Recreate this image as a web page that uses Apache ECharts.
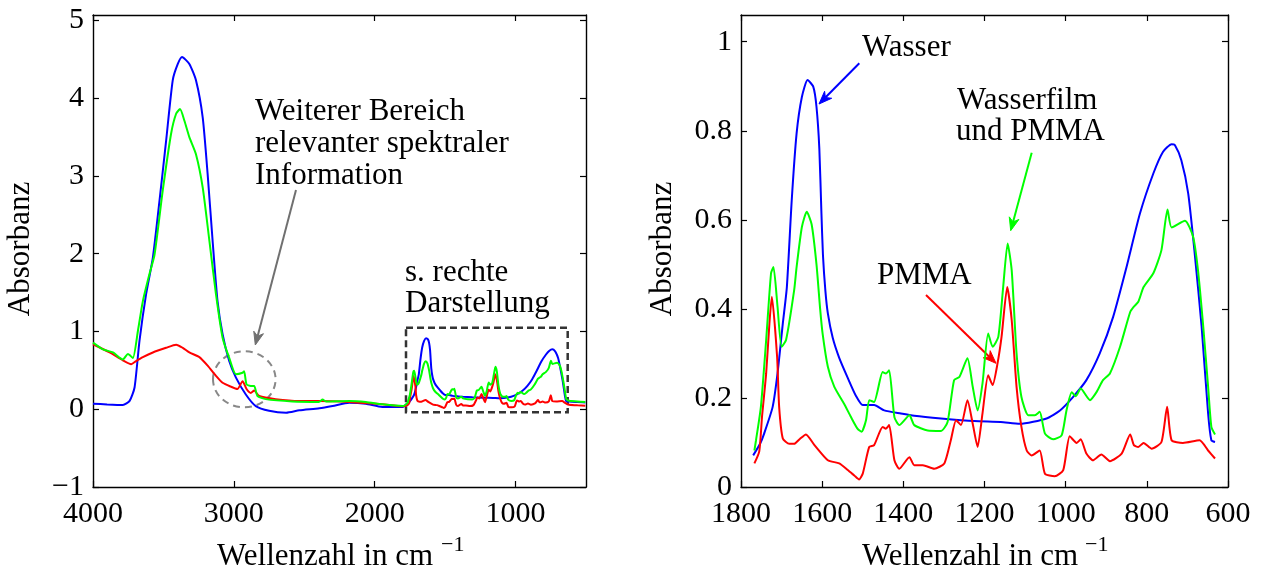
<!DOCTYPE html>
<html><head><meta charset="utf-8">
<script src="https://cdn.jsdelivr.net/npm/echarts@6/dist/echarts.min.js"></script>
<style>html,body{margin:0;padding:0;background:#fff}#c{width:1261px;height:572px}</style>
</head><body><div id="c"></div>
<script>
const FONT = '"Liberation Serif","Times New Roman",serif';

// Tick labels
const xTicksLeft = [4000, 3000, 2000, 1000];
const yTicksLeft = [-1, 0, 1, 2, 3, 4, 5];
const xTicksRight = [1800, 1600, 1400, 1200, 1000, 800, 600];
const yTicksRight = [0, 0.2, 0.4, 0.6, 0.8, 1];

// Left plot only: 4000 .. 1800 cm^-1  [wavenumber, absorbance]
const wasserHigh = [[4000,0.072],[3900,0.062],[3788,0.055],[3740,0.107],[3705,0.28],[3670,0.88],[3623,1.48],[3575,1.95],[3528,2.68],[3481,3.45],[3434,4.23],[3398,4.44],[3368,4.53],[3316,4.44],[3269,4.23],[3221,3.75],[3186,3.02],[3151,2.17],[3116,1.39],[3080,0.965],[3033,0.62],[2986,0.41],[2915,0.19],[2844,0.04],[2750,-0.02],[2629,-0.044],[2535,-0.013],[2393,0.013],[2299,0.042],[2181,0.085],[2063,0.072],[1946,0.03],[1800,0.03]];
const filmHigh = [[4000,0.857],[3929,0.77],[3858,0.73],[3788,0.64],[3752,0.71],[3717,0.66],[3681,1.01],[3646,1.39],[3599,1.74],[3563,1.99],[3505,2.81],[3446,3.54],[3410,3.80],[3382,3.86],[3351,3.71],[3316,3.50],[3269,3.28],[3221,2.85],[3174,2.17],[3127,1.48],[3080,0.92],[3033,0.66],[2986,0.45],[2938,0.47],[2927,0.49],[2910,0.32],[2880,0.30],[2856,0.30],[2832,0.17],[2774,0.13],[2585,0.10],[2396,0.094],[2370,0.124],[2346,0.10],[2181,0.107],[2063,0.094],[1946,0.064],[1800,0.042]];
const pmmaHigh = [[4000,0.836],[3882,0.73],[3788,0.63],[3729,0.58],[3694,0.62],[3646,0.67],[3575,0.73],[3481,0.79],[3410,0.83],[3363,0.79],[3316,0.73],[3245,0.67],[3186,0.56],[3127,0.43],[3080,0.34],[3021,0.29],[2975,0.26],[2938,0.36],[2910,0.26],[2880,0.21],[2856,0.24],[2820,0.17],[2703,0.13],[2535,0.107],[2396,0.107],[2181,0.094],[1946,0.064],[1800,0.038]];

// Fingerprint region 1770 .. 632 cm^-1 (right plot, also in left plot)
const wasserLow = [[1770,0.071],[1753,0.097],[1743,0.12],[1722,0.18],[1710,0.255],[1697,0.367],[1687,0.449],[1675,0.644],[1663,0.794],[1650,0.876],[1636,0.914],[1622,0.899],[1614,0.854],[1607,0.76],[1602,0.62],[1598,0.52],[1592,0.44],[1586,0.39],[1574,0.335],[1558,0.29],[1537,0.245],[1517,0.205],[1500,0.184],[1472,0.184],[1447,0.172],[1406,0.165],[1373,0.160],[1307,0.154],[1225,0.148],[1160,0.146],[1113,0.142],[1047,0.154],[1014,0.172],[982,0.202],[949,0.24],[916,0.30],[883,0.382],[850,0.494],[817,0.614],[784,0.704],[760,0.753],[739,0.770],[731,0.768],[715,0.734],[698,0.659],[682,0.524],[665,0.36],[649,0.165],[641,0.105],[632,0.101]];
const filmLow = [[1767,0.082],[1763,0.105],[1751,0.180],[1738,0.33],[1726,0.48],[1720,0.494],[1710,0.405],[1700,0.315],[1689,0.33],[1669,0.442],[1663,0.494],[1650,0.584],[1638,0.618],[1626,0.59],[1614,0.50],[1605,0.40],[1599,0.345],[1586,0.27],[1570,0.225],[1546,0.187],[1529,0.157],[1513,0.131],[1503,0.124],[1492,0.150],[1484,0.195],[1472,0.191],[1451,0.258],[1443,0.255],[1435,0.262],[1422,0.157],[1410,0.139],[1385,0.161],[1373,0.139],[1340,0.127],[1307,0.126],[1291,0.146],[1275,0.240],[1262,0.247],[1242,0.289],[1229,0.225],[1217,0.172],[1205,0.232],[1191,0.345],[1180,0.315],[1166,0.337],[1154,0.449],[1143,0.547],[1133,0.487],[1121,0.30],[1109,0.202],[1092,0.161],[1076,0.161],[1064,0.169],[1051,0.120],[1031,0.107],[1010,0.116],[998,0.172],[985,0.213],[975,0.204],[963,0.221],[940,0.195],[924,0.213],[908,0.24],[891,0.255],[866,0.315],[841,0.393],[832,0.405],[821,0.416],[808,0.449],[784,0.48],[764,0.532],[749,0.623],[739,0.583],[706,0.598],[686,0.562],[674,0.487],[661,0.36],[649,0.225],[641,0.135],[632,0.118]];
const pmmaLow = [[1767,0.053],[1755,0.08],[1748,0.16],[1738,0.255],[1730,0.367],[1724,0.427],[1711,0.292],[1706,0.18],[1697,0.109],[1681,0.097],[1669,0.097],[1655,0.108],[1640,0.118],[1619,0.094],[1586,0.060],[1558,0.053],[1537,0.038],[1521,0.026],[1509,0.017],[1500,0.030],[1484,0.090],[1472,0.094],[1451,0.135],[1443,0.131],[1435,0.139],[1422,0.060],[1410,0.041],[1385,0.067],[1373,0.049],[1352,0.049],[1324,0.041],[1299,0.053],[1283,0.105],[1270,0.150],[1258,0.139],[1242,0.195],[1229,0.142],[1217,0.090],[1205,0.165],[1191,0.251],[1180,0.229],[1168,0.277],[1158,0.337],[1144,0.449],[1133,0.375],[1121,0.225],[1109,0.135],[1096,0.082],[1084,0.071],[1064,0.082],[1051,0.030],[1027,0.024],[1006,0.038],[990,0.114],[973,0.099],[963,0.107],[949,0.075],[933,0.060],[912,0.073],[891,0.058],[862,0.075],[841,0.118],[832,0.094],[821,0.090],[808,0.099],[788,0.086],[764,0.101],[750,0.180],[739,0.105],[711,0.099],[670,0.105],[649,0.082],[632,0.064]];

// Left plot only: 632 .. 505 cm^-1
const wasserTail = [[620,0.10],[560,0.092],[505,0.088]];
const filmTail = [[620,0.11],[560,0.10],[505,0.094]];
const pmmaTail = [[620,0.058],[560,0.05],[505,0.045]];

const BLUE = '#0000ff', GREEN = '#00ff00', RED = '#ff0000';

const plain = v => String(v);
const minus = v => String(v).replace('-', '\u2212');

function xAxisCfg(grid, min, max, ticks, pos, showLabel) {
  return {
    type: 'value', gridIndex: grid, inverse: true, min: min, max: max, position: pos,
    axisLine: { show: true, onZero: false, lineStyle: { color: '#000', width: 1.4 } },
    axisTick: { show: true, inside: true, length: 6, customValues: ticks, lineStyle: { color: '#000', width: 1.2 } },
    axisLabel: { show: showLabel, customValues: ticks, color: '#000', fontFamily: FONT, fontSize: 30, margin: 12, formatter: plain },
    splitLine: { show: false }
  };
}
function yAxisCfg(grid, min, max, ticks, pos, showLabel, fmt) {
  return {
    type: 'value', gridIndex: grid, min: min, max: max, position: pos,
    axisLine: { show: true, onZero: false, lineStyle: { color: '#000', width: 1.4 } },
    axisTick: { show: true, inside: true, length: 6, customValues: ticks, lineStyle: { color: '#000', width: 1.2 } },
    axisLabel: { show: showLabel, customValues: ticks, color: '#000', fontFamily: FONT, fontSize: 30, margin: 9, formatter: fmt || plain },
    splitLine: { show: false }
  };
}
function line(name, data, xi, yi, color) {
  return { name: name, type: 'line', xAxisIndex: xi, yAxisIndex: yi, data: data, showSymbol: false, symbol: 'none',
    smooth: 0.2, lineStyle: { color: color, width: 2 }, itemStyle: { color: color }, animation: false, silent: true };
}
function text(t, x, y, opts) {
  return Object.assign({ type: 'text', x: x, y: y, silent: true,
    style: Object.assign({ text: t, font: '31px ' + FONT, fill: '#000', textAlign: 'left', textVerticalAlign: 'middle' }, opts || {}) });
}
function arrow(x1, y1, x2, y2, color) {
  const dx = x2 - x1, dy = y2 - y1, L = Math.hypot(dx, dy);
  const ux = dx / L, uy = dy / L, px = -uy, py = ux;
  const hl = 13, hw = 5;
  const bx = x2 - ux * hl, by = y2 - uy * hl;
  const nx = x2 - ux * hl * 0.7, ny = y2 - uy * hl * 0.7;
  return [
    { type: 'polyline', silent: true, shape: { points: [[x1, y1], [nx, ny]] }, style: { stroke: color, lineWidth: 2, fill: null } },
    { type: 'polygon', silent: true, shape: { points: [[x2, y2], [bx + px * hw, by + py * hw], [nx, ny], [bx - px * hw, by - py * hw]] }, style: { fill: color, stroke: color, lineWidth: 1 } }
  ];
}

const option = {
  backgroundColor: '#fff',
  animation: false,
  grid: [
    { left: 93, top: 15, right: 675, bottom: 85 },
    { left: 741, top: 15, right: 33, bottom: 85 }
  ],
  xAxis: [
    xAxisCfg(0, 500, 4000, xTicksLeft, 'bottom', true),
    xAxisCfg(0, 500, 4000, xTicksLeft, 'top', false),
    xAxisCfg(1, 600, 1800, xTicksRight, 'bottom', true),
    xAxisCfg(1, 600, 1800, xTicksRight, 'top', false)
  ],
  yAxis: [
    yAxisCfg(0, -1, 5.07, yTicksLeft, 'left', true, minus),
    yAxisCfg(0, -1, 5.07, yTicksLeft, 'right', false),
    yAxisCfg(1, 0, 1.06, yTicksRight, 'left', true),
    yAxisCfg(1, 0, 1.06, yTicksRight, 'right', false)
  ],
  series: [
    line('Wasser', wasserHigh.concat(wasserLow, wasserTail), 0, 0, BLUE),
    line('PMMA', pmmaHigh.concat(pmmaLow, pmmaTail), 0, 0, RED),
    line('Wasserfilm und PMMA', filmHigh.concat(filmLow, filmTail), 0, 0, GREEN),
    line('Wasser', wasserLow, 2, 2, BLUE),
    line('PMMA', pmmaLow, 2, 2, RED),
    line('Wasserfilm und PMMA', filmLow, 2, 2, GREEN)
  ],
  graphic: [].concat(
    [
      text('Weiterer Bereich\nrelevanter spektraler\nInformation', 255, 96, { textVerticalAlign: 'top', lineHeight: 32 }),
      text('s. rechte', 405, 272.5),
      text('Darstellung', 405, 303.5),
      text('Wasser', 862, 47.8),
      text('Wasserfilm', 957, 100.5),
      text('und PMMA', 956, 132.2),
      text('PMMA', 877, 275.5),
      { type: 'text', x: 21, y: 249, rotation: Math.PI / 2, silent: true, style: { text: 'Absorbanz', font: '31px ' + FONT, fill: '#000', textAlign: 'center', textVerticalAlign: 'middle' } },
      { type: 'text', x: 663, y: 249, rotation: Math.PI / 2, silent: true, style: { text: 'Absorbanz', font: '31px ' + FONT, fill: '#000', textAlign: 'center', textVerticalAlign: 'middle' } },
      text('Wellenzahl in cm', 217, 556.5),
      text('\u22121', 441, 545.3, { font: '22px ' + FONT }),
      text('Wellenzahl in cm', 862, 556.5),
      text('\u22121', 1085, 545.3, { font: '22px ' + FONT }),
      { type: 'rect', silent: true, shape: { x: 406, y: 327.7, width: 161.7, height: 84.6 }, style: { fill: null, stroke: '#333', lineWidth: 2.5, lineDash: [7, 4] } },
      { type: 'ellipse', silent: true, shape: { cx: 244.3, cy: 379.3, rx: 31.3, ry: 28 }, style: { fill: null, stroke: '#888', lineWidth: 2, lineDash: [7, 5] } }
    ],
    arrow(296, 190, 255.3, 345, '#707070'),
    arrow(859.3, 63.3, 819, 104, BLUE),
    arrow(1031.7, 152.7, 1010.7, 230.7, GREEN),
    arrow(926, 295, 996, 363.3, RED)
  )
};

const chart = echarts.init(document.getElementById('c'), null, { renderer: 'canvas' });
chart.setOption(option);
</script>
</body></html>
